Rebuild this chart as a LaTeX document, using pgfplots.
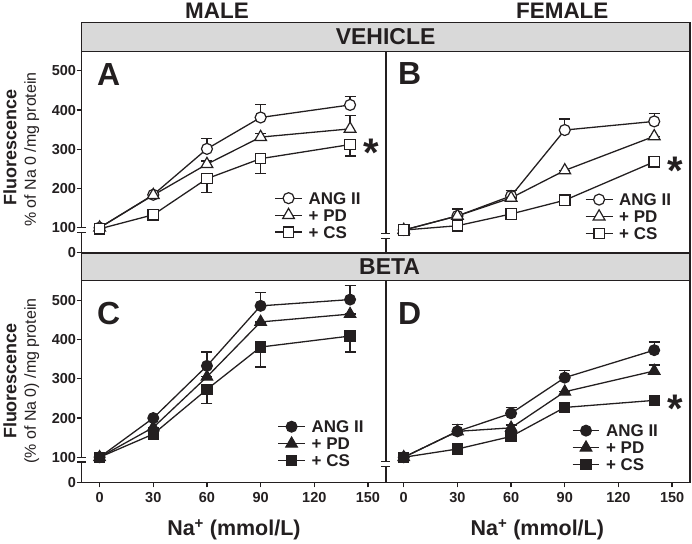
\documentclass[border=0pt]{standalone}
\usepackage{pgfplots}
\pgfplotsset{compat=1.18}
\usepackage{fontspec}
\setmainfont{Liberation Sans}
\definecolor{ink}{RGB}{35,31,32}
\definecolor{band}{RGB}{217,217,217}
\pgfplotsset{
  panel/.style={
    scale only axis, width=304.75pt, height=202pt, anchor=south west,
    xmin=-10, xmax=160, ymin=36, ymax=550,
    axis line style={ink, line width=1.4pt},
    tick style={ink, line width=1.3pt},
    major tick length=5pt, tick align=outside,
    xtick pos=bottom, ytick pos=left,
    clip=false,
    /pgf/number format/assume math mode=true,
    ticklabel style={font=\fontsize{14.5}{14.5}\selectfont\bfseries, text=ink},
    yticklabel style={inner xsep=0.5pt},
    xticklabel style={yshift=-1.5pt},
    legend cell align=left,
    legend style={draw=none, fill=none, font=\fontsize{17}{17}\selectfont\bfseries, text=ink,
      anchor=north west, inner sep=0pt, row sep=0pt,
      nodes={text height=12pt, text depth=0pt, inner sep=2.5pt},
      /tikz/every odd column/.append style={column sep=3.5pt}},
    legend image code/.code={\draw[mark repeat=2,mark phase=2] plot coordinates {(0pt,0pt) (13.5pt,0pt) (27pt,0pt)};},
  },
  ser/.style={ink, line width=1.3pt,
    error bars/y explicit,
    error bars/error bar style={ink, line width=1.3pt},
    error bars/error mark options={ink, line width=1.3pt, mark size=5.5pt, rotate=90}},
  angO/.style={ser, mark=*, mark size=5.5pt, mark options={solid, fill=white, draw=ink, line width=1.2pt}},
  pdO/.style={ser, mark=triangle*, mark size=6.8pt, mark options={solid, fill=white, draw=ink, line width=1.2pt}},
  csO/.style={ser, mark=square*, mark size=5.2pt, mark options={solid, fill=white, draw=ink, line width=1.2pt}},
  angF/.style={ser, mark=*, mark size=5.5pt, mark options={solid, fill=ink, draw=ink, line width=1pt}},
  pdF/.style={ser, mark=triangle*, mark size=6.8pt, mark options={solid, fill=ink, draw=ink, line width=1pt}},
  csF/.style={ser, mark=square*, mark size=5.2pt, mark options={solid, fill=ink, draw=ink, line width=1pt}},
}
\begin{document}
\begin{tikzpicture}[x=1pt,y=1pt]
\path (0,0) rectangle (692,541);
% bands
\draw[ink, line width=1.4pt, fill=band] (80.5,491.5) rectangle (690,520.5);
\draw[ink, line width=1.4pt, fill=band] (80.5,261.5) rectangle (690,289.5);
\node[font=\fontsize{23}{23}\selectfont\bfseries, text=ink] at (385,506) {VEHICLE};
\node[font=\fontsize{23}{23}\selectfont\bfseries, text=ink] at (389,276) {BETA};
\node[font=\fontsize{22.5}{22.5}\selectfont\bfseries, text=ink, anchor=base] at (216,524) {MALE};
\node[font=\fontsize{22.5}{22.5}\selectfont\bfseries, text=ink, anchor=base] at (562,524) {FEMALE};

% Panel A
\begin{axis}[panel, at={(80.5pt,289.5pt)}, xtick=\empty,
  ytick={36,100,200,300,400,500}, yticklabels={0,100,200,300,400,500},
  legend style={at={(0.633,0.314)}}]
\addplot[angO, error bars/y dir=plus] coordinates {(0,100) +- (0,0) (30,184) +- (0,5) (60,301) +- (0,27) (90,381) +- (0,33) (140,413) +- (0,22)};
\addplot[pdO, error bars/y dir=plus] coordinates {(0,100) +- (0,0) (30,183) +- (0,0) (60,262) +- (0,8) (90,331) +- (0,10) (140,352) +- (0,34)};
\addplot[csO, error bars/y dir=minus] coordinates {(0,97) +- (0,0) (30,133) +- (0,0) (60,225) +- (0,36) (90,276) +- (0,37) (140,312) +- (0,29)};
\legend{ANG II, + PD, + CS}
\coordinate (Ab1) at (axis cs:-10,100);
\coordinate (Ab2) at (axis cs:-10,88);
\end{axis}

% Panel B
\begin{axis}[panel, at={(385.25pt,289.5pt)}, xtick=\empty, ytick=\empty,
  legend style={at={(0.654,0.307)}}]
\addplot[angO, error bars/y dir=plus] coordinates {(0,94) +- (0,0) (30,130) +- (0,18) (60,181) +- (0,14) (90,349) +- (0,28) (140,371) +- (0,21)};
\addplot[pdO, error bars/y dir=plus] coordinates {(0,94) +- (0,0) (30,130) +- (0,0) (60,176) +- (0,0) (90,246) +- (0,0) (140,333) +- (0,0)};
\addplot[csO, error bars/y dir=minus] coordinates {(0,94) +- (0,0) (30,105) +- (0,0) (60,135) +- (0,0) (90,170) +- (0,0) (140,268) +- (0,0)};
\legend{ANG II, + PD, + CS}
\coordinate (Bb1) at (axis cs:-10,86);
\coordinate (Bb2) at (axis cs:-10,73);
\end{axis}

% Panel C
\begin{axis}[panel, at={(80.5pt,59.5pt)}, xtick={0,30,60,90,120,150},
  ytick={36,100,200,300,400,500}, yticklabels={0,100,200,300,400,500},
  legend style={at={(0.643,0.319)}}]
\addplot[angF, error bars/y dir=plus] coordinates {(0,100) +- (0,0) (30,200) +- (0,0) (60,333) +- (0,35) (90,486) +- (0,34) (140,502) +- (0,35)};
\addplot[pdF, error bars/y dir=plus] coordinates {(0,100) +- (0,0) (30,176) +- (0,0) (60,305) +- (0,0) (90,445) +- (0,0) (140,465) +- (0,0)};
\addplot[csF, error bars/y dir=minus] coordinates {(0,100) +- (0,0) (30,159) +- (0,0) (60,273) +- (0,36) (90,381) +- (0,51) (140,409) +- (0,41)};
\legend{ANG II, + PD, + CS}
\coordinate (Cb1) at (axis cs:-10,100);
\coordinate (Cb2) at (axis cs:-10,88);
\end{axis}

% Panel D
\begin{axis}[panel, at={(385.25pt,59.5pt)}, xtick={0,30,60,90,120,150}, ytick=\empty,
  legend style={at={(0.611,0.2995)}}]
\addplot[angF, error bars/y dir=plus] coordinates {(0,100) +- (0,0) (30,166) +- (0,17) (60,212) +- (0,15) (90,303) +- (0,19) (140,373) +- (0,21)};
\addplot[pdF, error bars/y dir=plus] coordinates {(0,100) +- (0,0) (30,166) +- (0,0) (60,175) +- (0,7) (90,267) +- (0,0) (140,320) +- (0,15)};
\addplot[csF, error bars/y dir=minus] coordinates {(0,100) +- (0,0) (30,121) +- (0,0) (60,153) +- (0,0) (90,227) +- (0,0) (140,245) +- (0,0)};
\legend{ANG II, + PD, + CS}
\coordinate (Db1) at (axis cs:-10,90);
\coordinate (Db2) at (axis cs:-10,76);
\end{axis}

% axis breaks
\foreach \p in {A,B,C,D}{
  \draw[white, line width=3pt] (\p b1) -- (\p b2);
  \draw[ink, line width=1.2pt] ([xshift=-4.5pt]\p b1) -- ([xshift=4.5pt]\p b1);
  \draw[ink, line width=1.2pt] ([xshift=-4.5pt]\p b2) -- ([xshift=4.5pt]\p b2);
}

% panel letters
\node[font=\fontsize{32}{32}\selectfont\bfseries, text=ink] at (107.5,468.5) {A};
\node[font=\fontsize{32}{32}\selectfont\bfseries, text=ink] at (409,469) {B};
\node[font=\fontsize{32}{32}\selectfont\bfseries, text=ink] at (107.5,228.3) {C};
\node[font=\fontsize{32}{32}\selectfont\bfseries, text=ink] at (409,228.5) {D};

% asterisks
\node[font=\fontsize{40}{40}\selectfont\bfseries, text=ink, inner sep=0pt, anchor=north] at (371,403.5) {*};
\node[font=\fontsize{40}{40}\selectfont\bfseries, text=ink, inner sep=0pt, anchor=north] at (675,386) {*};
\node[font=\fontsize{40}{40}\selectfont\bfseries, text=ink, inner sep=0pt, anchor=north] at (675,147.5) {*};

% y labels
\node[rotate=90, anchor=base, font=\fontsize{18}{18}\selectfont\bfseries, text=ink] at (15,395) {Fluorescence};
\node[rotate=90, anchor=base, font=\fontsize{16}{16}\selectfont, text=ink] at (34.5,393) {\% of Na 0 /mg protein};
\node[rotate=90, anchor=base, font=\fontsize{18}{18}\selectfont\bfseries, text=ink] at (15,161) {Fluorescence};
\node[rotate=90, anchor=base, font=\fontsize{16}{16}\selectfont, text=ink] at (34.5,161) {(\% of Na 0) /mg protein};

% x labels
\node[anchor=base, font=\fontsize{21.5}{21.5}\selectfont\bfseries, text=ink] at (233,6) {Na\textsuperscript{+} (mmol/L)};
\node[anchor=base, font=\fontsize{21.5}{21.5}\selectfont\bfseries, text=ink] at (537,6) {Na\textsuperscript{+} (mmol/L)};
\end{tikzpicture}
\end{document}
